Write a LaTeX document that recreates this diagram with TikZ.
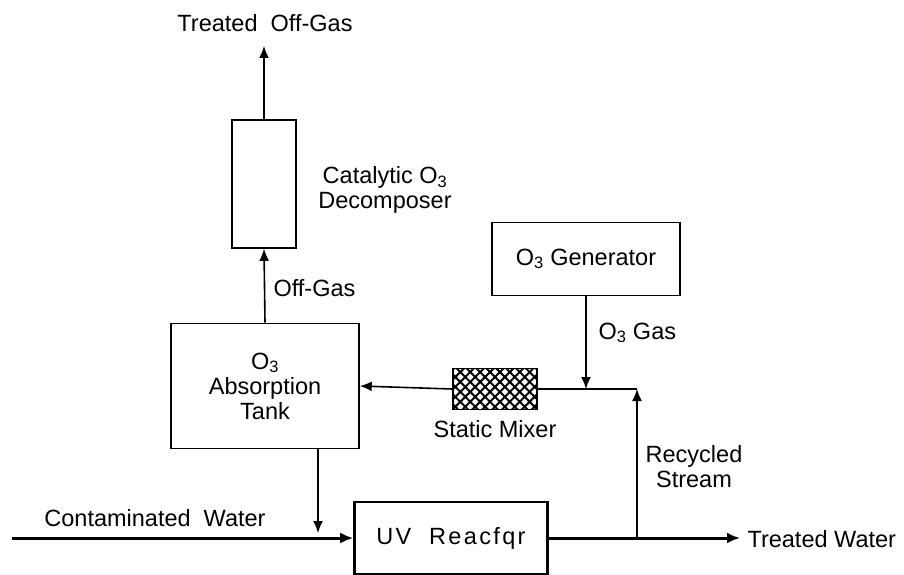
\documentclass[tikz,border=0pt]{standalone}
\usepackage{fontspec}
\setmainfont{Liberation Sans}
\newfontfamily\spacedfont[LetterSpace=10]{Liberation Sans}
\usepackage{tikz}
\usetikzlibrary{arrows.meta,positioning,patterns.meta}

\begin{document}
\begin{tikzpicture}[x=1pt,y=-1pt,font=\fontsize{23.5}{25}\selectfont,
   unit/.style={draw,line width=1.6pt,inner sep=0pt,align=center},
   flow/.style={line width=1.6pt,-{Latex[length=12pt,width=10pt]}},
   water/.style={line width=3pt,-{Latex[length=13pt,width=11pt]}}]
  \useasboundingbox (0,0) rectangle (904,575);
  % units
  \node[unit,minimum width=64pt,minimum height=128pt]  (cat)   at (264,184)   {};
  \node[unit,minimum width=188pt,minimum height=125pt] (tank)  at (265,386)
       {O\textsubscript{3}\\Absorption\\Tank};
  \node[unit,minimum width=188pt,minimum height=73pt]  (gen)   at (586,259)
       {O\textsubscript{3} Generator};
  \node[unit,minimum width=84pt,minimum height=41pt,
        pattern={Lines[angle=45,distance=7pt,line width=2pt]},
        postaction={pattern={Lines[angle=-45,distance=7pt,line width=2pt]}}]
                                                       (mix)   at (495,389)   {};
  \node[unit,line width=2.6pt,minimum width=193pt,minimum height=72pt]
                                                       (uv)    at (451,538)
       {\spacedfont UV\ \ Reacfqr};
  % labels
  \node (offtxt) at (265,23) {Treated\ \ Off-Gas};
  \node[align=center] (cattxt) at (385,190) {Catalytic O\textsubscript{3}\\Decomposer};
  \node[anchor=west] (gastxt) at (270,288) {Off-Gas};
  \node[anchor=west] (o3txt)  at (595,333) {O\textsubscript{3} Gas};
  \node[below=6pt of mix] (mixtxt) {Static Mixer};
  \node[align=center] (rectxt) at (694,467) {Recycled\\Stream};
  \node (intxt)  at (155,518) {Contaminated\ \ Water};
  \node[anchor=west] (outtxt) at (744,539) {Treated Water};
  % stream points
  \coordinate (top)    at (264,46);
  \coordinate (inlet)  at (12,538);
  \coordinate (split)  at (637,538);
  \coordinate (outlet) at (740,538);
  \coordinate (corner) at (637,389);
  \coordinate (drop)   at (318,533);
  % connectors
  \draw[flow] (cat.north) -- (top);
  \draw[flow] (tank.north) -- (cat.south);
  \draw[flow] (gen.south) -- (gen.south |- corner);
  \draw[flow] (split) -- (corner);
  \draw[line width=1.6pt] (corner) -- (mix.east);
  \draw[flow] (mix.west) -- (tank.east);
  \draw[flow] (drop |- tank.south) -- (drop);
  \draw[water] (inlet) -- (uv.west);
  \draw[water] (uv.east) -- (outlet);
\end{tikzpicture}
\end{document}
